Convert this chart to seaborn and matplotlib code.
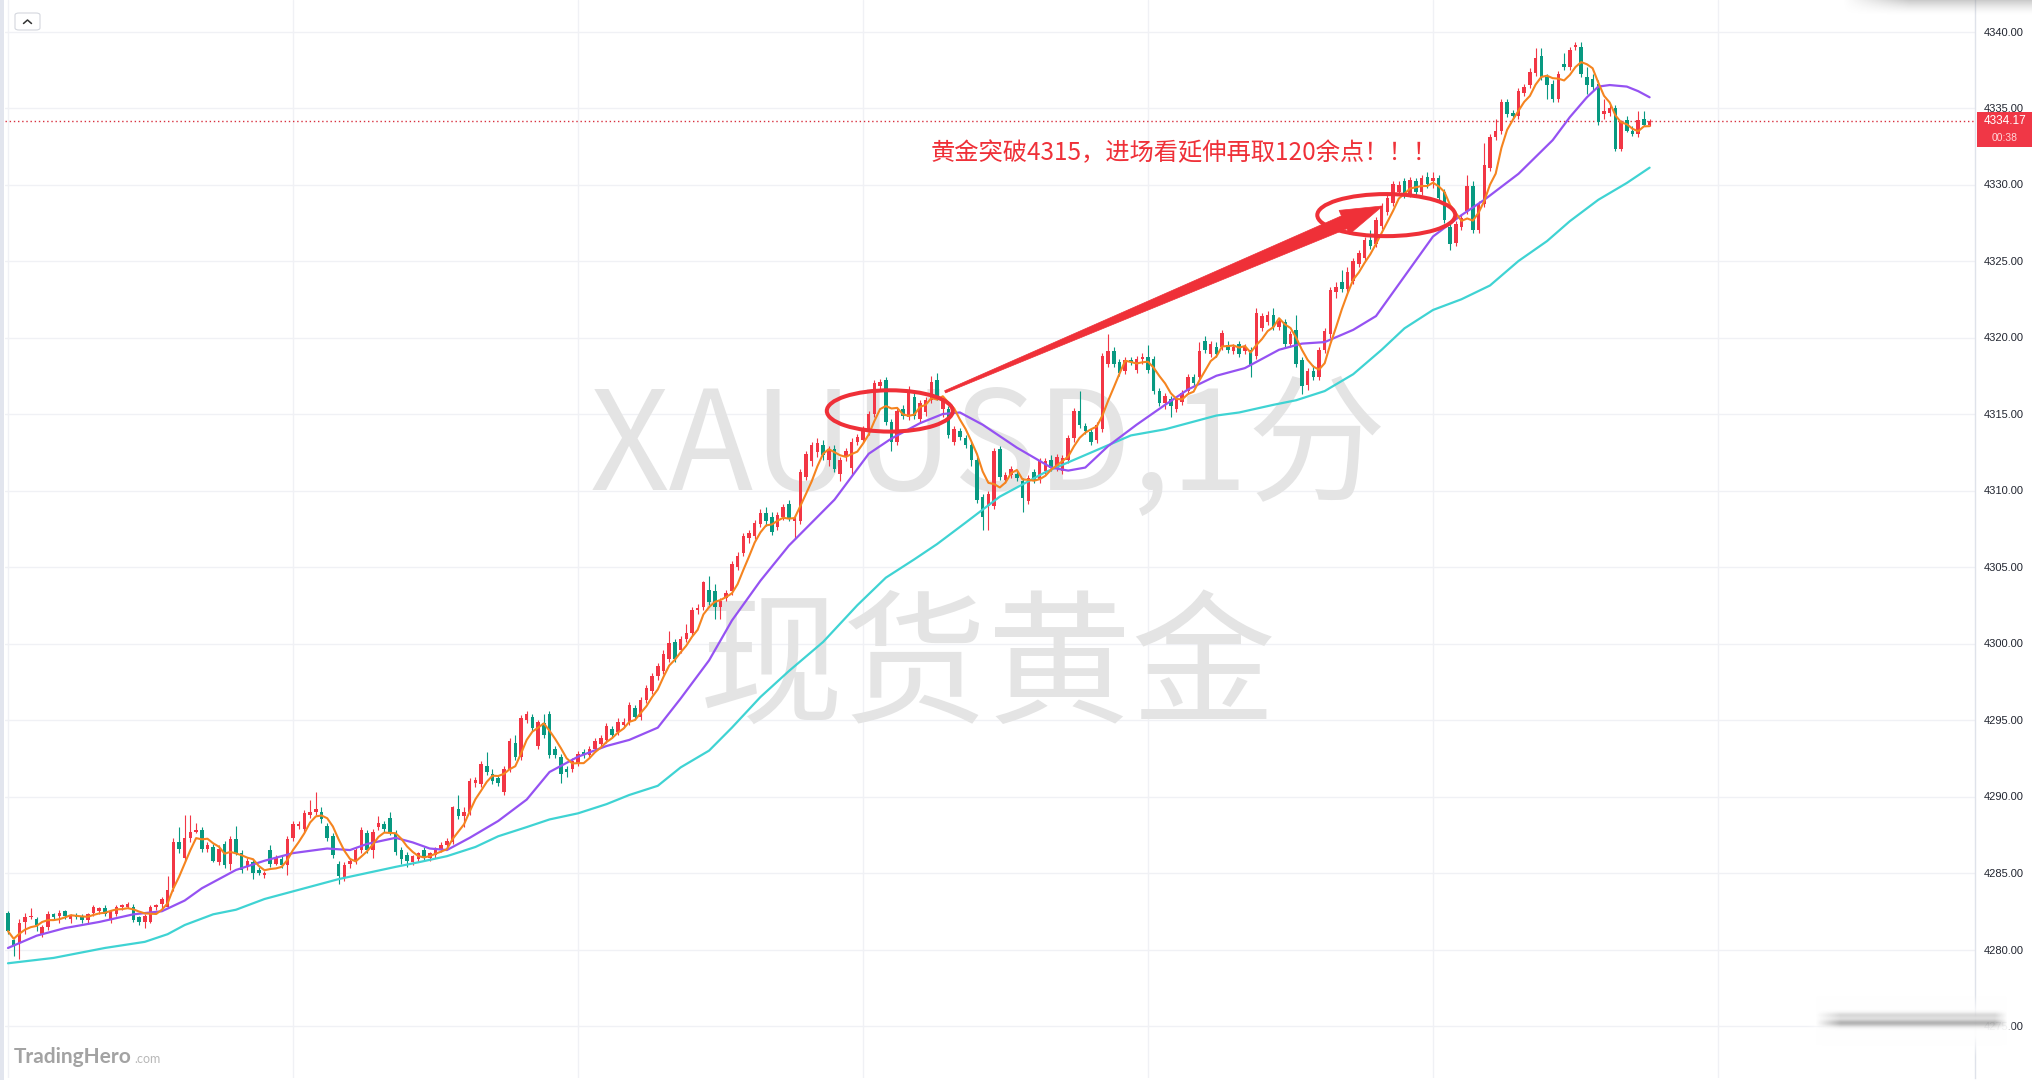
import numpy as np
import pandas as pd
import matplotlib
matplotlib.use("Agg")
import matplotlib.pyplot as plt
import seaborn as sns
from matplotlib.patches import Ellipse, Rectangle, FancyBboxPatch, Polygon
from matplotlib.lines import Line2D

# ------------------------------------------------------------------ data
opens = [4282.4, 4280.6, 4280.4, 4281.8, 4282.1, 4282.0, 4281.0, 4281.5, 4282.3, 4282.2,
         4282.5, 4282.0, 4282.2, 4282.2, 4281.9, 4282.4, 4282.5, 4282.7, 4282.0, 4282.3,
         4282.8, 4282.8, 4282.8, 4282.1, 4281.8, 4281.8, 4282.8, 4283.0, 4282.8, 4284.0,
         4287.0, 4286.0, 4287.3, 4287.7, 4287.8, 4286.6, 4286.7, 4285.7, 4286.9, 4285.6,
         4287.2, 4286.3, 4285.4, 4285.7, 4285.2, 4284.9, 4286.5, 4285.6, 4285.9, 4285.5,
         4287.3, 4288.1, 4287.9, 4288.8, 4289.0, 4289.0, 4288.1, 4287.4, 4285.6, 4284.7,
         4285.6, 4285.8, 4286.5, 4287.6, 4286.5, 4288.0, 4288.2, 4288.6, 4287.6, 4286.5,
         4286.2, 4285.7, 4285.9, 4286.5, 4286.0, 4286.2, 4286.6, 4286.8, 4287.0, 4289.2,
         4288.7, 4289.0, 4290.9, 4290.8, 4292.0, 4291.5, 4291.2, 4290.3, 4291.8, 4293.5,
         4292.6, 4295.0, 4295.2, 4293.3, 4294.8, 4295.4, 4293.1, 4292.6, 4291.8, 4291.8,
         4292.2, 4292.9, 4292.7, 4293.1, 4293.4, 4293.7, 4294.4, 4294.2, 4294.7, 4294.9,
         4295.8, 4295.2, 4296.3, 4296.9, 4297.9, 4298.2, 4299.0, 4300.1, 4299.6, 4300.3,
         4300.7, 4302.2, 4302.4, 4303.5, 4303.4, 4302.4, 4303.0, 4303.4, 4305.0, 4305.9,
         4306.9, 4307.0, 4307.8, 4308.5, 4308.3, 4307.6, 4308.3, 4309.1, 4308.0, 4308.0,
         4310.9, 4311.9, 4312.5, 4313.0, 4312.0, 4312.7, 4311.1, 4312.2, 4311.5, 4313.2,
         4313.3, 4313.8, 4315.0, 4316.8, 4317.2, 4314.5, 4313.2, 4315.3, 4314.8, 4316.1,
         4314.7, 4315.1, 4315.9, 4317.2, 4315.3, 4315.3, 4313.2, 4313.9, 4313.4, 4313.0,
         4312.0, 4309.6, 4309.0, 4309.0, 4312.7, 4310.7, 4311.0, 4311.1, 4310.6, 4309.3,
         4311.2, 4310.7, 4311.3, 4312.0, 4311.5, 4311.3, 4312.0, 4313.4, 4315.2, 4314.2,
         4313.8, 4313.3, 4314.0, 4318.3, 4319.1, 4318.4, 4317.8, 4318.5, 4317.9, 4318.6,
         4318.7, 4318.6, 4316.5, 4315.7, 4316.0, 4315.3, 4315.8, 4316.5, 4317.4, 4317.4,
         4319.8, 4318.9, 4319.4, 4319.4, 4319.5, 4319.1, 4319.6, 4319.1, 4319.2, 4318.8,
         4320.6, 4321.0, 4321.5, 4320.7, 4321.0, 4319.6, 4320.5, 4318.5, 4316.9, 4317.8,
         4317.4, 4319.2, 4320.2, 4323.0, 4323.6, 4323.2, 4323.7, 4324.8, 4325.2, 4326.4,
         4326.1, 4327.3, 4328.2, 4328.8, 4329.5, 4330.2, 4329.4, 4330.2, 4329.5, 4330.5,
         4330.2, 4330.4, 4329.5,
         4327.2, 4326.2, 4327.2, 4328.3, 4329.9, 4327.0, 4328.7, 4331.1, 4333.1, 4333.5,
         4335.4, 4334.7, 4334.5, 4336.0, 4336.5, 4337.3, 4338.4, 4337.0, 4336.6, 4335.6,
         4337.9, 4337.7, 4339.0, 4339.0, 4337.0, 4336.9, 4336.6, 4334.6, 4334.7, 4335.0,
         4332.3, 4334.2, 4333.5, 4333.3, 4334.3, 4333.9]

highs = [4282.5, 4280.7, 4282.0, 4282.4, 4282.7, 4282.1, 4281.6, 4282.5, 4282.4, 4282.6,
         4282.6, 4282.3, 4282.4, 4282.3, 4282.4, 4282.9, 4282.8, 4282.9, 4282.6, 4282.9,
         4283.0, 4283.1, 4283.0, 4282.2, 4282.3, 4282.9, 4283.0, 4283.4, 4284.8, 4287.3,
         4288.0, 4288.8, 4288.8, 4288.3, 4288.0, 4287.0, 4286.9, 4286.8, 4287.1, 4287.4,
         4288.1, 4286.5, 4286.0, 4285.9, 4285.4, 4285.1, 4286.8, 4286.2, 4286.1, 4287.4,
         4288.4, 4288.4, 4289.1, 4289.8, 4290.3, 4289.3, 4288.3, 4287.6, 4285.8, 4285.7,
         4286.0, 4286.7, 4288.0, 4287.8, 4287.9, 4288.7, 4288.4, 4289.0, 4287.8, 4286.7,
         4286.4, 4286.2, 4286.4, 4286.7, 4286.4, 4286.7, 4287.0, 4287.3, 4289.4, 4290.1,
         4289.3, 4291.2, 4291.3, 4292.3, 4292.9, 4291.8, 4291.4, 4292.0, 4293.8, 4294.0,
         4295.3, 4295.6, 4295.4, 4295.0, 4295.4, 4295.6, 4293.3, 4292.8, 4292.0, 4292.5,
         4293.0, 4293.1, 4293.3, 4293.8, 4294.0, 4294.8, 4294.6, 4295.1, 4295.1, 4296.2,
         4296.0, 4296.5, 4297.3, 4298.1, 4298.7, 4299.6, 4300.8, 4300.3, 4300.5, 4301.3,
         4302.4, 4302.6, 4304.1, 4304.4, 4303.9, 4303.0, 4303.5, 4305.4, 4306.0, 4307.2,
         4307.4, 4308.1, 4308.8, 4308.9, 4308.6, 4308.6, 4309.1, 4309.4, 4308.4, 4311.4,
         4312.6, 4313.2, 4313.4, 4313.3, 4312.9, 4313.0, 4312.2, 4312.8, 4313.4, 4313.7,
         4314.2, 4315.2, 4317.2, 4317.3, 4317.4, 4314.7, 4315.4, 4315.6, 4316.8, 4316.4,
         4315.9, 4316.1, 4317.5, 4317.7, 4316.2, 4315.5, 4314.2, 4314.1, 4313.6, 4313.2,
         4312.2, 4309.8, 4310.0, 4312.8, 4312.9, 4311.2, 4311.6, 4311.3, 4310.8, 4311.0,
         4311.4, 4312.1, 4312.1, 4312.3, 4312.4, 4312.3, 4313.6, 4315.4, 4316.5, 4314.4,
         4314.0, 4314.5, 4319.0, 4320.2, 4319.4, 4318.6, 4318.7, 4318.7, 4318.8, 4319.0,
         4319.5, 4318.8, 4316.7, 4316.4, 4316.2, 4316.2, 4316.6, 4317.6, 4317.6, 4319.7,
         4320.1, 4319.8, 4319.7, 4320.5, 4319.8, 4319.6, 4319.8, 4319.6, 4319.4, 4321.9,
         4321.6, 4321.7, 4321.9, 4321.3, 4321.2, 4320.4, 4321.5, 4318.7, 4318.0, 4318.2,
         4319.4, 4320.6, 4323.3, 4323.6, 4324.4, 4324.6, 4325.2, 4325.7, 4326.6, 4327.0,
         4327.9, 4328.8, 4329.3, 4330.2, 4330.2, 4330.4, 4330.5, 4330.4, 4330.6, 4330.8,
         4330.8, 4330.6, 4329.7,
         4327.4, 4327.6, 4328.0, 4330.6, 4330.2, 4328.9, 4332.7, 4333.3, 4334.3, 4335.6,
         4335.6, 4334.9, 4336.3, 4336.6, 4337.6, 4338.9, 4338.9, 4337.2, 4336.8, 4337.4,
         4338.6, 4339.0, 4339.3, 4339.3, 4337.7, 4337.2, 4336.8, 4335.6, 4335.2, 4335.2,
         4334.2, 4334.5, 4333.8, 4334.8, 4334.8, 4334.3]

lows = [4281.0, 4279.6, 4279.4, 4281.0, 4282.0, 4281.2, 4280.8, 4281.3, 4282.0, 4281.7,
        4282.0, 4281.7, 4282.0, 4281.7, 4281.7, 4282.2, 4282.3, 4282.2, 4281.7, 4282.2,
        4282.6, 4282.7, 4281.8, 4281.6, 4281.4, 4281.7, 4282.6, 4282.6, 4282.7, 4283.8,
        4286.3, 4285.8, 4287.0, 4287.6, 4286.4, 4286.4, 4285.7, 4285.5, 4285.3, 4285.2,
        4286.2, 4285.0, 4285.2, 4284.6, 4284.9, 4284.7, 4285.4, 4285.5, 4285.3, 4284.9,
        4287.1, 4287.9, 4287.7, 4288.6, 4288.8, 4288.3, 4287.1, 4286.0, 4284.3, 4284.5,
        4285.3, 4285.6, 4286.3, 4286.3, 4286.0, 4287.8, 4287.7, 4287.5, 4286.2, 4285.6,
        4285.4, 4285.5, 4285.7, 4285.8, 4285.8, 4286.0, 4286.4, 4286.6, 4286.9, 4288.5,
        4288.0, 4288.8, 4290.6, 4290.6, 4291.4, 4290.8, 4290.7, 4290.1, 4291.6, 4292.4,
        4292.4, 4294.8, 4294.3, 4293.1, 4293.8, 4292.5, 4292.5, 4290.9, 4291.3, 4291.6,
        4292.0, 4292.5, 4292.5, 4292.9, 4293.2, 4293.5, 4293.8, 4294.0, 4294.5, 4294.7,
        4295.0, 4295.0, 4296.1, 4296.7, 4297.6, 4298.0, 4298.8, 4298.8, 4299.4, 4300.1,
        4300.5, 4301.9, 4302.2, 4302.5, 4301.6, 4301.6, 4302.8, 4303.2, 4304.8, 4305.7,
        4306.6, 4306.8, 4307.6, 4307.7, 4307.1, 4307.4, 4308.1, 4308.0, 4306.8, 4307.8,
        4310.7, 4311.6, 4312.2, 4312.0, 4311.6, 4311.2, 4310.6, 4311.9, 4311.0, 4313.0,
        4313.1, 4313.6, 4314.8, 4316.6, 4314.3, 4312.6, 4313.0, 4314.7, 4314.6, 4314.7,
        4314.5, 4314.9, 4315.7, 4315.9, 4314.8, 4313.4, 4313.0, 4313.3, 4312.8, 4311.6,
        4309.2, 4307.4, 4307.4, 4308.8, 4310.7, 4310.5, 4310.8, 4310.6, 4308.6, 4309.1,
        4310.5, 4310.5, 4311.1, 4311.3, 4311.3, 4311.1, 4311.8, 4313.2, 4314.1, 4313.7,
        4313.0, 4313.1, 4313.8, 4318.1, 4318.1, 4317.5, 4317.6, 4318.2, 4317.7, 4318.3,
        4317.7, 4316.3, 4315.5, 4315.3, 4314.8, 4315.1, 4315.6, 4316.3, 4316.8, 4317.2,
        4319.0, 4318.7, 4318.7, 4319.2, 4319.0, 4318.9, 4318.7, 4318.9, 4317.4, 4318.6,
        4320.4, 4320.8, 4320.5, 4320.5, 4319.4, 4319.4, 4318.1, 4316.3, 4316.6, 4317.2,
        4317.2, 4319.0, 4320.0, 4322.6, 4323.0, 4323.0, 4323.5, 4324.6, 4325.0, 4325.8,
        4325.9, 4327.1, 4328.0, 4328.6, 4329.3, 4329.1, 4329.2, 4329.3, 4329.3, 4329.8,
        4329.8, 4328.9, 4327.5,
        4325.7, 4326.0, 4327.0, 4328.1, 4326.8, 4326.8, 4328.5, 4330.9, 4332.9, 4333.3,
        4334.4, 4334.3, 4334.3, 4335.8, 4336.3, 4337.1, 4336.8, 4335.6, 4335.4, 4335.4,
        4337.5, 4337.5, 4338.8, 4337.0, 4335.9, 4336.1, 4333.9, 4334.3, 4334.5, 4332.2,
        4332.2, 4333.4, 4333.2, 4333.1, 4333.8, 4333.8]

closes = [4281.2, 4280.2, 4281.7, 4282.1, 4282.1, 4281.6, 4281.5, 4282.3, 4282.1, 4282.4,
          4282.2, 4282.2, 4282.1, 4281.9, 4282.3, 4282.8, 4282.7, 4282.3, 4282.5, 4282.8,
          4282.9, 4283.0, 4281.9, 4281.8, 4282.2, 4282.8, 4282.9, 4283.3, 4283.9, 4287.0,
          4286.6, 4287.3, 4287.7, 4287.8, 4286.6, 4286.8, 4285.8, 4286.6, 4285.5, 4287.2,
          4286.3, 4285.2, 4285.8, 4285.0, 4285.0, 4284.9, 4285.6, 4286.0, 4285.5, 4287.2,
          4288.2, 4288.2, 4288.9, 4289.0, 4289.2, 4288.5, 4287.3, 4286.2, 4284.8, 4285.5,
          4285.8, 4286.5, 4287.8, 4286.5, 4287.7, 4288.3, 4287.9, 4287.7, 4286.4, 4285.9,
          4285.8, 4286.1, 4286.3, 4286.0, 4286.3, 4286.6, 4286.8, 4287.1, 4289.3, 4288.7,
          4289.0, 4291.0, 4291.1, 4292.1, 4291.6, 4291.0, 4290.9, 4291.8, 4293.6, 4292.6,
          4295.1, 4295.4, 4294.5, 4294.9, 4294.0, 4292.7, 4292.7, 4291.5, 4291.6, 4292.3,
          4292.8, 4292.7, 4293.1, 4293.6, 4293.8, 4294.6, 4294.0, 4294.9, 4294.9, 4296.0,
          4295.2, 4296.3, 4297.1, 4297.9, 4298.5, 4299.3, 4300.0, 4299.0, 4300.3, 4300.7,
          4302.2, 4302.3, 4304.0, 4302.7, 4302.4, 4302.8, 4303.3, 4305.2, 4305.7, 4307.0,
          4307.2, 4307.9, 4308.5, 4308.0, 4307.3, 4308.4, 4308.9, 4308.2, 4308.2, 4311.2,
          4312.4, 4313.0, 4313.1, 4312.3, 4312.7, 4311.4, 4312.0, 4312.6, 4313.2, 4313.5,
          4314.0, 4315.0, 4317.0, 4317.1, 4314.5, 4313.2, 4315.2, 4314.9, 4316.6, 4314.9,
          4315.7, 4315.9, 4317.1, 4316.1, 4316.0, 4313.6, 4314.0, 4313.5, 4313.0, 4312.0,
          4309.4, 4308.3, 4309.8, 4312.6, 4310.9, 4311.0, 4311.4, 4310.8, 4309.5, 4310.8,
          4310.7, 4311.9, 4311.9, 4311.5, 4312.2, 4312.1, 4313.4, 4315.2, 4314.3, 4313.9,
          4313.2, 4314.3, 4318.8, 4319.1, 4318.3, 4317.7, 4318.5, 4318.4, 4318.6, 4318.7,
          4317.9, 4316.5, 4315.7, 4316.2, 4315.5, 4316.0, 4316.4, 4317.4, 4317.0, 4319.1,
          4319.2, 4319.6, 4318.9, 4320.3, 4319.2, 4319.4, 4318.9, 4319.4, 4318.2, 4321.6,
          4321.4, 4321.5, 4320.7, 4321.1, 4319.6, 4320.2, 4318.3, 4316.8, 4317.8, 4317.4,
          4319.2, 4320.4, 4323.1, 4323.3, 4323.2, 4324.3, 4325.0, 4325.5, 4326.4, 4326.0,
          4327.7, 4328.6, 4329.1, 4330.0, 4330.0, 4329.3, 4330.3, 4329.5, 4330.4, 4330.0,
          4330.4, 4329.1, 4327.7,
          4326.1, 4327.4, 4327.8, 4329.9, 4327.0, 4328.7, 4331.25, 4333.1, 4333.5, 4335.4,
          4334.6, 4334.5, 4336.1, 4336.4, 4337.35, 4338.3, 4337.0, 4336.5, 4335.6, 4337.2,
          4337.7, 4338.8, 4339.1, 4337.2, 4336.5, 4336.4, 4334.1, 4334.8, 4335.0, 4332.3,
          4334.1, 4333.5, 4333.3, 4334.2, 4333.9, 4334.17]

# mid moving average (purple) at these bar indices
ma_mid_idx = [0, 5, 10, 16, 22, 27, 31, 34, 40, 45, 50, 56, 60, 63, 68, 71, 74, 77, 81, 86,
              91, 95, 100, 105, 109, 114, 118, 123, 127, 132, 137, 141, 145, 151, 155, 160,
              164, 167, 171, 177, 183, 186, 189, 193, 198, 203, 207, 212, 217, 223, 227, 231,
              236, 240, 245, 250, 255, 259, 265, 271, 274, 277, 279, 281, 284, 286, 288]
ma_mid_val = [4280.1, 4280.9, 4281.4, 4281.8, 4282.3, 4282.5, 4283.2, 4284.0, 4285.2, 4285.8,
              4286.3, 4286.6, 4286.5, 4286.9, 4287.3, 4287.0, 4286.6, 4286.5, 4287.3, 4288.4,
              4289.8, 4291.6, 4292.6, 4293.3, 4293.7, 4294.5, 4296.4, 4298.9, 4301.5, 4304.1,
              4306.4, 4307.9, 4309.4, 4312.4, 4313.4, 4314.4, 4315.0, 4315.1, 4314.3, 4312.8,
              4311.5, 4311.3, 4311.5, 4312.9, 4314.3, 4315.6, 4316.6, 4317.5, 4318.0, 4319.2,
              4319.6, 4319.7, 4320.5, 4321.4, 4324.0, 4326.6, 4328.0, 4329.0, 4330.7, 4332.9,
              4334.4, 4335.7, 4336.4, 4336.5, 4336.4, 4336.1, 4335.7]

# slow moving average (cyan) at these bar indices
ma_slow_idx = [0, 8, 17, 24, 28, 31, 36, 40, 45, 52, 58, 63, 68, 72, 77, 82, 86, 91, 95, 100,
               105, 109, 114, 118, 123, 127, 132, 137, 143, 149, 154, 159, 163, 168, 174, 178,
               182, 187, 192, 197, 203, 207, 212, 216, 222, 226, 231, 236, 241, 245, 250, 255,
               260, 265, 270, 274, 279, 284, 288]
ma_slow_val = [4279.1, 4279.45, 4280.1, 4280.5, 4281.0, 4281.6, 4282.3, 4282.6, 4283.3, 4284.0,
               4284.6, 4285.0, 4285.4, 4285.7, 4286.1, 4286.7, 4287.4, 4288.0, 4288.5, 4288.9,
               4289.5, 4290.1, 4290.7, 4291.9, 4293.0, 4294.5, 4296.5, 4298.2, 4300.1, 4302.5,
               4304.3, 4305.5, 4306.5, 4307.9, 4309.6, 4310.4, 4311.2, 4312.0, 4312.8, 4313.6,
               4314.0, 4314.4, 4314.9, 4315.1, 4315.6, 4315.9, 4316.5, 4317.6, 4319.2, 4320.6,
               4321.8, 4322.5, 4323.4, 4325.0, 4326.3, 4327.6, 4329.0, 4330.1, 4331.1]

fast_window = 5
last_price = 4334.17
countdown = "00:38"
y_ticks = list(range(4275, 4341, 5))
wm_line1 = "XAUUSD,1分"
wm_line2 = "现货黄金"
note_text = "黄金突破4315，进场看延伸再取120余点！！！"
logo_main = "TradingHero"
logo_tail = ".com"

# annotation anchors (bar index, price)
circle_1 = (154.7, 4315.2, 22.1, 2.7)
circle_2 = (241.8, 4328.0, 24.2, 2.75)
arrow_from = (164.4, 4316.45)
arrow_to = (241.2, 4328.6)

# ------------------------------------------------------------------ style
sns.set_theme(style="white")
plt.rcParams['font.family'] = ['Noto Sans CJK SC', 'DejaVu Sans']

RED = '#f23645'
GREEN = '#089981'
ANNO = '#ef3038'
ORANGE = '#f5841f'
PURPLE = '#9552f2'
CYAN = '#3fd3d3'
GRID = '#f0f1f5'

W, H = 2033, 1080
fig = plt.figure(figsize=(W / 100, H / 100), dpi=100)
fig.patch.set_facecolor('white')

def fx(x):
    return x / W

def fy(y):
    return 1 - y / H

ax = fig.add_axes([fx(5), fy(1078), (1975 - 5) / W, 1078 / H])
ax.set_facecolor('white')

n = len(closes)
idx = np.arange(n)
o = np.array(opens); h = np.array(highs); l = np.array(lows); c = np.array(closes)

df = pd.DataFrame({'i': idx, 'close': c})
df['ma_fast'] = df['close'].rolling(fast_window, min_periods=1).mean()

# scales: bar i at pixel 8 + 5.70 i ; price 4340 at pixel 31.5, 15.30 px per unit
px_per_bar = 5.70
ax.set_xlim((5 - 8) / px_per_bar, (1975 - 8) / px_per_bar)
ax.set_ylim(4340 - (1078 - 31.5) / 15.30, 4340 + 31.5 / 15.30)

# watermark
ax.text(0.499, 1 - 490 / 1078, wm_line1, transform=ax.transAxes, ha='center', va='baseline',
        fontsize=100, color='#e4e4e4', zorder=1, family=['Noto Sans CJK SC', 'DejaVu Sans'])
ax.text(0.499, 1 - 712 / 1078, wm_line2, transform=ax.transAxes, ha='center', va='baseline',
        fontsize=104, color='#e4e4e4', zorder=1, family=['Noto Sans CJK SC', 'DejaVu Sans'])

# candles
up = c >= o
cols = np.where(up, RED, GREEN)
ax.vlines(idx, l, h, colors=cols, linewidth=0.8, zorder=3)
body_lo = np.minimum(o, c)
body_h = np.maximum(np.abs(c - o), 0.07)
ax.bar(idx, body_h, bottom=body_lo, width=0.62, color=cols, linewidth=0, zorder=4)

# moving averages
sns.lineplot(x=ma_slow_idx, y=ma_slow_val, ax=ax, color=CYAN, linewidth=1.6,
             estimator=None, sort=False, legend=False, zorder=5)
sns.lineplot(x=ma_mid_idx, y=ma_mid_val, ax=ax, color=PURPLE, linewidth=1.6,
             estimator=None, sort=False, legend=False, zorder=5)
sns.lineplot(x=df['i'], y=df['ma_fast'], ax=ax, color=ORANGE, linewidth=1.5,
             estimator=None, sort=False, legend=False, zorder=6)
ax.set_xlabel('')
ax.set_ylabel('')

# grid and axis
ax.set_yticks(y_ticks)
ax.set_yticklabels([f"{v:.2f}" for v in y_ticks])
ax.set_xticks(list(range(0, 301, 50)))
ax.set_xticklabels([])
ax.grid(True, color=GRID, linewidth=1.0, zorder=0)
ax.set_axisbelow(True)
for s in ['top', 'left', 'bottom']:
    ax.spines[s].set_visible(False)
ax.spines['right'].set_color('#dfe2ea')
ax.spines['right'].set_linewidth(1.0)
ax.yaxis.tick_right()
ax.tick_params(axis='y', length=0, pad=6, labelsize=8, labelcolor='#222631')
ax.tick_params(axis='x', length=0)
for lab in ax.get_yticklabels():
    lab.set_fontfamily('Liberation Sans')
ax.set_xlim((5 - 8) / px_per_bar, (1975 - 8) / px_per_bar)
ax.set_ylim(4340 - (1078 - 31.5) / 15.30, 4340 + 31.5 / 15.30)

# last price dotted line
ax.axhline(last_price, color='#d8303e', linewidth=1.0, linestyle=(0, (1, 2)), zorder=2)

# ellipses
for (cx, cy, ew, eh) in (circle_1, circle_2):
    ax.add_patch(Ellipse((cx, cy), ew, eh, fill=False, edgecolor=ANNO, linewidth=2.9, zorder=7))

# tapered arrow (built in pixel space from data anchors)
p0 = ax.transData.transform(arrow_from)
p1 = ax.transData.transform(arrow_to)
d = (p1 - p0) / np.linalg.norm(p1 - p0)
nrm = np.array([-d[1], d[0]])
head_len, head_hw, shaft_end_hw, shaft_start_hw = 42.0, 13.0, 7.0, 1.2
base = p1 - d * head_len
pts_px = np.array([p0 + nrm * shaft_start_hw, base + nrm * shaft_end_hw, base + nrm * head_hw,
                   p1, base - nrm * head_hw, base - nrm * shaft_end_hw, p0 - nrm * shaft_start_hw])
pts = ax.transData.inverted().transform(pts_px)
ax.add_patch(Polygon(pts, closed=True, facecolor=ANNO, edgecolor=ANNO, linewidth=0.5, zorder=7))

# annotation text
ax.text((931 - 5) / 1970, 1 - 153 / 1078, note_text, transform=ax.transAxes, ha='left',
        va='center', fontsize=17.5, color=ANNO, zorder=8,
        family=['Noto Sans CJK SC', 'DejaVu Sans'])

# ---- figure-level decorations
fig.add_artist(Rectangle((0, 0), fx(4), 1, transform=fig.transFigure, facecolor='#e2e5ee',
                         edgecolor='none', zorder=2))

# price tag
fig.add_artist(Rectangle((fx(1977), fy(147)), (2033 - 1977) / W, 35 / H, transform=fig.transFigure,
                         facecolor='#f03746', edgecolor='none', zorder=3))
fig.text(fx(2005), fy(121), f"{last_price:.2f}", ha='center', va='center', fontsize=8.5,
         color='white', family='Liberation Sans', zorder=4)
fig.text(fx(2005), fy(138), countdown, ha='center', va='center', fontsize=7.5,
         color='#ffd6da', family='Liberation Sans', zorder=4)

# collapse button
fig.add_artist(FancyBboxPatch((fx(15), fy(30)), 25 / W, 17 / H, transform=fig.transFigure,
                              boxstyle='round,pad=0,rounding_size=0.002', facecolor='white',
                              edgecolor='#d4d7de', linewidth=0.8, zorder=3))
fig.add_artist(Line2D([fx(23.5), fx(27.5), fx(31.5)], [fy(23.5), fy(20), fy(23.5)],
                      transform=fig.transFigure, color='#333333', linewidth=1.1, zorder=4))

# logo
t1 = fig.text(fx(14), fy(1063), logo_main, ha='left', va='baseline', fontsize=15,
              fontweight='bold', color='#a3a3a3', family='Lato', zorder=4)
fig.canvas.draw()
bb = t1.get_window_extent()
fig.text((bb.x1 + 2) / W, fy(1063), logo_tail, ha='left', va='baseline', fontsize=9,
         color='#b8b8b8', family='Lato', zorder=4)

# blurred band bottom-right (covers most of the lowest price label)
bx0, bx1 = 1805, 2014
bh, bw = 64, bx1 - bx0
yy = np.linspace(0, 1, bh)[:, None]
xx = np.linspace(0, 1, bw)[None, :]
env = np.clip(xx / 0.12, 0, 1) * np.clip((1 - xx) / 0.03, 0, 1) \
    * np.clip(np.minimum(yy, 1 - yy) / 0.35, 0, 1)
streak = (np.exp(-((yy - 0.45) / 0.06) ** 2) + 0.5 * np.exp(-((yy - 0.33) / 0.05) ** 2)) \
    * np.clip((xx - 0.05) / 0.12, 0, 1) * np.clip((0.97 - xx) / 0.06, 0, 1)
s = np.clip(0.45 * streak, 0, 1)
alpha = np.maximum(0.95 * env, s)
rgb = np.ones((bh, bw, 3)) * (1 - s[..., None] * 0.65 / np.maximum(alpha[..., None], 1e-6))
rgba = np.dstack([np.clip(rgb, 0, 1), np.clip(alpha, 0, 1)])
bax = fig.add_axes([fx(bx0), fy(1058), bw / W, bh / H], zorder=10)
bax.imshow(rgba, aspect='auto', interpolation='bilinear')
bax.axis('off')

# top-right shadow
sh, sw = 16, 190
yy2 = np.linspace(0, 1, sh)[:, None]
xx2 = np.linspace(0, 1, sw)[None, :]
a2 = 0.45 * (1 - yy2) ** 1.6 * np.clip(xx2 / 0.35, 0, 1)
rgba2 = np.dstack([np.full((sh, sw), 0.55)] * 3 + [a2])
tax = fig.add_axes([fx(1843), fy(16), sw / W, sh / H], zorder=10)
tax.imshow(rgba2, aspect='auto', interpolation='bilinear')
tax.axis('off')

fig.savefig('out.png', dpi=100, facecolor='white')
